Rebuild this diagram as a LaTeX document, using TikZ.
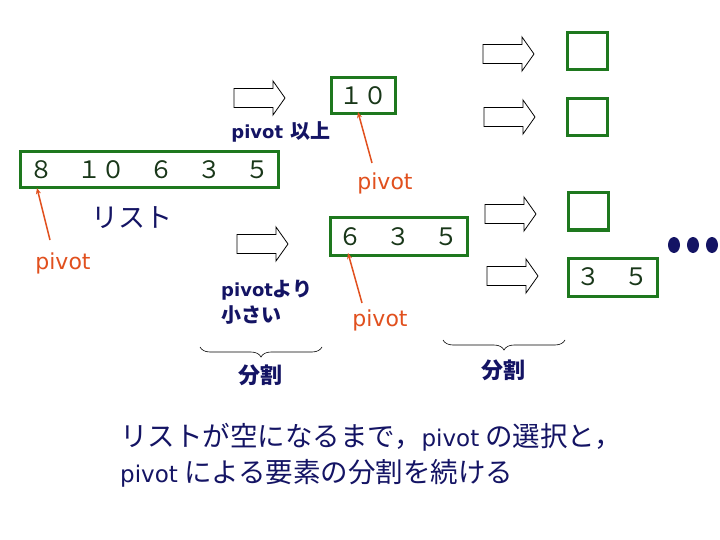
\documentclass[tikz,border=0pt]{standalone}
\usepackage{fontspec}
\usetikzlibrary{arrows.meta,decorations.pathreplacing}
\newfontfamily\jp{Noto Sans CJK JP}
\newfontfamily\dv{DejaVu Sans}
\definecolor{boxgreen}{RGB}{30,120,30}
\definecolor{digit}{RGB}{25,55,25}
\definecolor{navy}{RGB}{20,20,100}
\definecolor{piv}{RGB}{225,80,30}
\begin{document}
\begin{tikzpicture}[x=1pt,y=-1pt,
  listbox/.style={draw=boxgreen, line width=3pt, inner sep=0pt, text=digit,
    font=\jp\fontsize{24}{24}\selectfont},
  pivlabel/.style={text=piv, font=\dv\fontsize{22}{22}\selectfont, inner sep=0pt},
  pivline/.style={draw=piv, line width=1.5pt, -{Stealth[length=6pt,width=5pt]}},
  navytext/.style={text=navy, inner sep=0pt},
  boldlabel/.style={navytext, font=\bfseries\fontsize{20}{24}\selectfont},
  brace/.style={decorate, decoration={brace, amplitude=10pt}, draw=black, line width=0.6pt},
  blockarrow/.pic={\draw[black, line width=0.8pt, fill=white]
    (0,-9.5) -- (39,-9.5) -- (39,-17) -- (51,0) -- (39,17) -- (39,9.5) -- (0,9.5) -- cycle;}
]
\useasboundingbox[fill=white] (0,0) rectangle (720,540);

% boxes
\node[listbox, minimum width=258, minimum height=36] (L) at (149,170) {８　１０　６　３　５};
\node[listbox, minimum width=64, minimum height=36] (B10) at (363,96) {１０};
\node[listbox, minimum width=137, minimum height=37] (B635) at (398.5,236.5) {６　３　５};
\node[listbox, minimum width=89, minimum height=38] (B35) at (612.5,277) {３　５};
\node[listbox, minimum width=40, minimum height=37] (S1) at (587,51.5) {};
\node[listbox, minimum width=40, minimum height=37] (S2) at (587,117.5) {};
\node[listbox, minimum width=40, minimum height=37] (S3) at (588,211.5) {};

% block arrows
\pic at (234,98) {blockarrow};
\pic at (237,244) {blockarrow};
\pic at (483,54) {blockarrow};
\pic at (484,117) {blockarrow};
\pic at (485,214) {blockarrow};
\pic at (487,276) {blockarrow};

% texts
\node[navytext, font=\jp\fontsize{27}{27}\selectfont] (lst) at (132,218) {リスト};
\node[boldlabel] (ijou) at (281,132) {{\dv\fontsize{18}{18}\selectfont pivot} {\jp 以上}};
\node[boldlabel, align=left, anchor=west] (small) at (221,302)
  {{\dv\fontsize{18}{18}\selectfont pivot}{\jp より}\\[2pt]{\jp 小さい}};
\node[boldlabel, font=\jp\bfseries\fontsize{22}{22}\selectfont] (div1) at (260,375) {分割};
\node[boldlabel, font=\jp\bfseries\fontsize{22}{22}\selectfont] (div2) at (503,370) {分割};
\node[navytext, align=left, anchor=west, font=\jp\fontsize{27.5}{36}\selectfont] (bottom) at (120,455)
  {リストが空になるまで，{\dv\fontsize{23}{23}\selectfont pivot} の選択と，\\
   {\dv\fontsize{23}{23}\selectfont pivot} による要素の分割を続ける};

% pivot labels and arrows
\node[pivlabel] (p1) at (63,263) {pivot};
\node[pivlabel] (p2) at (385,183) {pivot};
\node[pivlabel] (p3) at (380,320) {pivot};
\coordinate (p1s) at (50,240);
\coordinate (p1t) at (37,188);
\coordinate (p2s) at (372,163);
\coordinate (p2t) at (358,112);
\coordinate (p3s) at (362,303);
\coordinate (p3t) at (348,253);
\draw[pivline] (p1s) -- (p1t);
\draw[pivline] (p2s) -- (p2t);
\draw[pivline] (p3s) -- (p3t);

% braces
\coordinate (b1r) at (322,347);
\coordinate (b1l) at (200,347);
\coordinate (b2r) at (565,340);
\coordinate (b2l) at (443,340);
\draw[brace] (b1r) -- (b1l);
\draw[brace] (b2r) -- (b2l);

% dots
\fill[navy] (674,245) ellipse (6 and 8);
\fill[navy] (693,245) ellipse (6 and 8);
\fill[navy] (712,245) ellipse (6 and 8);
\end{tikzpicture}
\end{document}
